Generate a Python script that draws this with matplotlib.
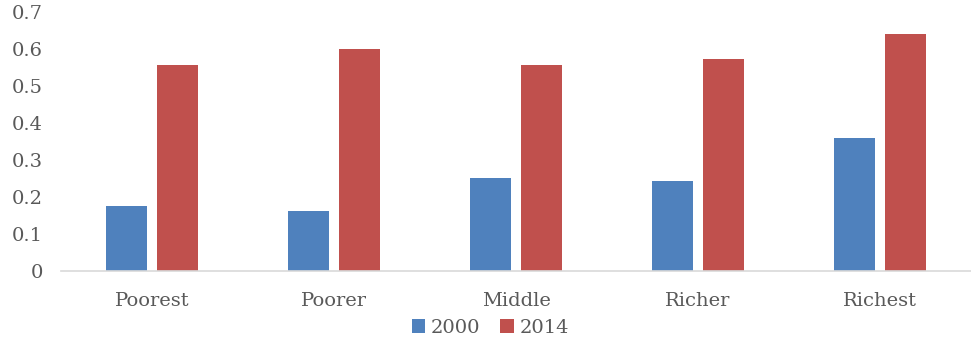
import numpy as np
import matplotlib
matplotlib.use("Agg")
import matplotlib.pyplot as plt

# data
categories = ["Poorest", "Poorer", "Middle", "Richer", "Richest"]
values_2000 = [0.176, 0.162, 0.251, 0.243, 0.359]
values_2014 = [0.557, 0.600, 0.558, 0.573, 0.640]
series_labels = ["2000", "2014"]
y_ticks = [0, 0.1, 0.2, 0.3, 0.4, 0.5, 0.6, 0.7]
y_tick_labels = ["0", "0.1", "0.2", "0.3", "0.4", "0.5", "0.6", "0.7"]

plt.rcParams["font.family"] = ["DejaVu Serif"]
text_color = "#595959"

fig = plt.figure(figsize=(9.71, 3.39), dpi=100)
ax = fig.add_axes([0.0628, 0.2006, 0.9372, 0.764])

x = np.arange(len(categories))
width = 0.225
offset = 0.14
ax.bar(x - offset, values_2000, width, color="#4f81bd", label=series_labels[0])
ax.bar(x + offset, values_2014, width, color="#c0504d", label=series_labels[1])

ax.set_xlim(-0.5, len(categories) - 0.5)
ax.set_ylim(0, 0.7)
ax.set_yticks(y_ticks)
ax.set_yticklabels(y_tick_labels)
ax.set_xticks(x)
ax.set_xticklabels(categories)
ax.tick_params(axis="y", length=0, pad=13, labelsize=14, labelcolor=text_color)
ax.tick_params(axis="x", length=0, pad=15, labelsize=14, labelcolor=text_color)

for side in ["top", "right", "left"]:
    ax.spines[side].set_visible(False)
ax.spines["bottom"].set_color("#d9d9d9")
ax.spines["bottom"].set_linewidth(1.2)

leg = fig.legend(loc="lower center", bbox_to_anchor=(0.505, -0.045), ncol=2, frameon=False,
                 fontsize=14, handlelength=0.7, handleheight=0.7, handletextpad=0.3,
                 columnspacing=1.0)
for t in leg.get_texts():
    t.set_color(text_color)

fig.savefig("out.png", dpi=100)
